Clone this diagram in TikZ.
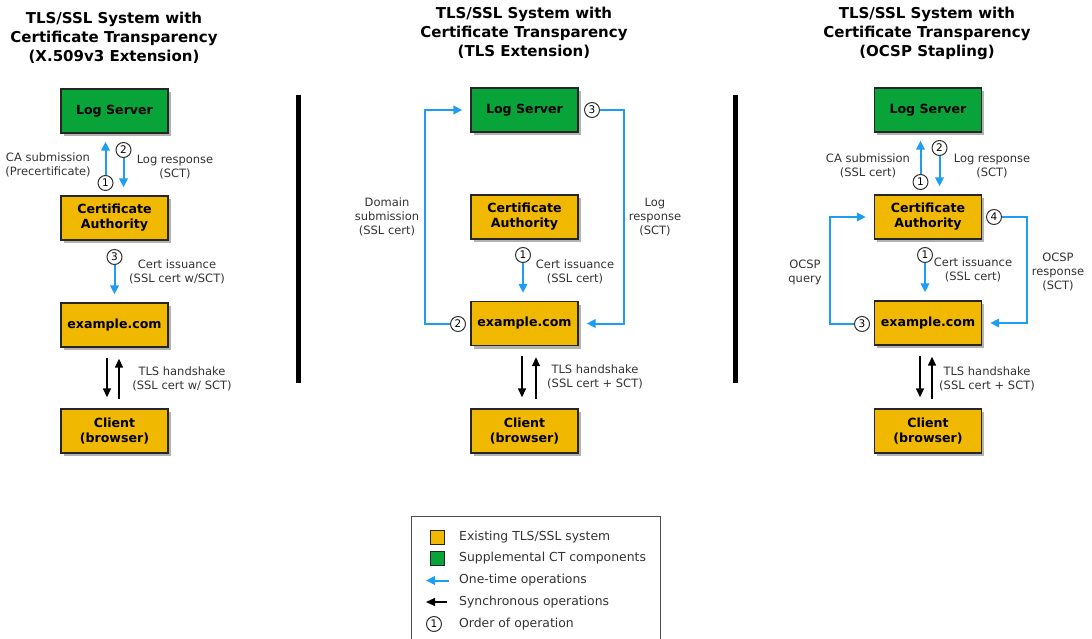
\documentclass[tikz,border=0pt]{standalone}
\usepackage{fontspec}
\setmainfont{DejaVu Sans}
\usetikzlibrary{arrows.meta,shadows}

\definecolor{caYellow}{HTML}{F0B900}
\definecolor{ctGreen}{HTML}{08A43A}
\definecolor{opBlue}{HTML}{1E9DF5}
\definecolor{lblGray}{HTML}{333333}

\tikzset{
  sysbox/.style={draw=black!85, line width=1.4pt, minimum width=107pt, minimum height=44pt,
    inner sep=2pt, align=center, font=\fontsize{12.6}{15}\selectfont\bfseries,
    drop shadow={shadow xshift=2.5pt, shadow yshift=-3pt, opacity=0.3, fill=black}},
  existing/.style={sysbox, fill=caYellow},
  supplemental/.style={sysbox, fill=ctGreen},
  heading/.style={align=center, font=\fontsize{15}{19}\selectfont\bfseries},
  lbl/.style={align=center, inner sep=0pt, text=lblGray, font=\fontsize{11.5}{14}\selectfont},
  legendtext/.style={anchor=west, inner sep=0pt, text=lblGray, font=\fontsize{12.4}{14}\selectfont},
  order/.style={circle, draw=black!80, line width=1pt, fill=white, minimum size=15pt,
    inner sep=0pt, font=\fontsize{10.5}{10.5}\selectfont},
  onetime/.style={draw=opBlue, line width=2pt, -{Triangle[length=9pt,width=8.5pt]}},
  sync/.style={draw=black, line width=1.5pt, -{Triangle[length=9pt,width=8pt]}},
  divider/.style={line width=5pt},
  swatch/.style={draw=black!85, line width=1pt, minimum size=14pt, inner sep=0pt},
}

\begin{document}
\begin{tikzpicture}[x=1pt,y=-1pt]
\clip (0,0) rectangle (1092,639);
\fill[white] (0,0) rectangle (1092,639);

% ---------- X.509v3 extension ----------
\node[heading] (t1) at (114,38) {TLS/SSL System with\\Certificate Transparency\\(X.509v3 Extension)};
\node[supplemental] (ls1) at (114.5,111) {Log Server};
\node[existing] (ca1) at (114.5,218) {Certificate\\Authority};
\node[existing] (ex1) at (114.5,325) {example.com};
\node[existing] (cl1) at (114.5,431) {Client\\(browser)};

\node[order] (o11) at (105.5,183) {1};
\node[order] (o12) at (123.5,150) {2};
\node[order] (o13) at (114.5,257) {3};
\draw[onetime, shorten >=8pt] (o11.north) -- (o11.north |- ls1.south);
\draw[onetime, shorten >=8pt] (o12.south) -- (o12.south |- ca1.north);
\draw[onetime, shorten >=8pt] (o13.south) -- (ex1.north);
\draw[sync, shorten <=10pt, shorten >=11pt] ([xshift=-7.5pt]ex1.south) -- ([xshift=-7.5pt]cl1.north);
\draw[sync, shorten <=9pt, shorten >=11pt] ([xshift=4.5pt]cl1.north) -- ([xshift=4.5pt]ex1.south);

\node[lbl] (l11) at (48,165) {CA submission\\(Precertificate)};
\node[lbl] (l12) at (175,167) {Log response\\(SCT)};
\node[lbl] (l13) at (177,271.5) {Cert issuance\\(SSL cert w/SCT)};
\node[lbl] (l14) at (182,379) {TLS handshake\\(SSL cert w/ SCT)};

\draw[divider] (298,95) -- (298,383);

% ---------- TLS extension ----------
\node[heading] (t2) at (524,33) {TLS/SSL System with\\Certificate Transparency\\(TLS Extension)};
\node[supplemental] (ls2) at (524.5,110) {Log Server};
\node[existing] (ca2) at (524.5,217) {Certificate\\Authority};
\node[existing] (ex2) at (524.5,323.5) {example.com};
\node[existing] (cl2) at (524.5,431) {Client\\(browser)};

\node[order] (o21) at (523,255) {1};
\node[order] (o22) at (458,324) {2};
\node[order] (o23) at (592,110) {3};
\draw[onetime, shorten >=8pt] (o21.south) -- (o21.south |- ex2.north);
\draw[onetime, shorten >=8pt] (o22.west) -- ++(-25,0) |- (ls2.west);
\draw[onetime, shorten >=8pt] (o23.east) -- ++(24,0) |- (ex2.east);
\draw[sync, shorten <=10pt, shorten >=11pt] ([xshift=-2.5pt]ex2.south) -- ([xshift=-2.5pt]cl2.north);
\draw[sync, shorten <=9pt, shorten >=11pt] ([xshift=11.5pt]cl2.north) -- ([xshift=11.5pt]ex2.south);

\node[lbl] (l21) at (387,217) {Domain\\submission\\(SSL cert)};
\node[lbl] (l22) at (655,217) {Log\\response\\(SCT)};
\node[lbl] (l23) at (575,272) {Cert issuance\\(SSL cert)};
\node[lbl] (l24) at (595,377) {TLS handshake\\(SSL cert + SCT)};

\draw[divider] (735,95) -- (735,383);

% ---------- OCSP stapling ----------
\node[heading] (t3) at (927,33) {TLS/SSL System with\\Certificate Transparency\\(OCSP Stapling)};
\node[supplemental] (ls3) at (928,110) {Log Server};
\node[existing] (ca3) at (928,217) {Certificate\\Authority};
\node[existing] (ex3) at (928,323) {example.com};
\node[existing] (cl3) at (928,431) {Client\\(browser)};

\node[order] (o31) at (920.5,182) {1};
\node[order] (o32) at (939.5,148) {2};
\node[order] (o3c) at (925,255) {1};
\node[order] (o33) at (862,324) {3};
\node[order] (o34) at (994,217) {4};
\draw[onetime, shorten >=8pt] (o31.north) -- (o31.north |- ls3.south);
\draw[onetime, shorten >=8pt] (o32.south) -- (o32.south |- ca3.north);
\draw[onetime, shorten >=8pt] (o3c.south) -- (o3c.south |- ex3.north);
\draw[onetime, shorten >=8pt] (o33.west) -- ++(-24,0) |- (ca3.west);
\draw[onetime, shorten >=8pt] (o34.east) -- ++(25,0) |- (ex3.east);
\draw[sync, shorten <=10pt, shorten >=11pt] ([xshift=-8pt]ex3.south) -- ([xshift=-8pt]cl3.north);
\draw[sync, shorten <=9pt, shorten >=11pt] ([xshift=4pt]cl3.north) -- ([xshift=4pt]ex3.south);

\node[lbl] (l31) at (868,166) {CA submission\\(SSL cert)};
\node[lbl] (l32) at (992,166) {Log response\\(SCT)};
\node[lbl] (l33) at (973,270) {Cert issuance\\(SSL cert)};
\node[lbl] (l34) at (805,272) {OCSP\\query};
\node[lbl] (l35) at (1058,272) {OCSP\\response\\(SCT)};
\node[lbl] (l36) at (987,379) {TLS handshake\\(SSL cert + SCT)};

% ---------- legend ----------
\draw[draw=black!70, line width=1pt] (411,516) rectangle (660,660);
\node[swatch, fill=caYellow] (k1) at (437.5,537) {};
\node[swatch, fill=ctGreen] (k2) at (437.5,558.5) {};
\coordinate (k3a) at (449,580.5);
\coordinate (k3b) at (426,580.5);
\coordinate (k4a) at (447,602);
\coordinate (k4b) at (426,602);
\draw[onetime] (k3a) -- (k3b);
\draw[sync] (k4a) -- (k4b);
\node[order] (k5) at (434,624) {1};
\node[legendtext] (e1) at (459,537) {Existing TLS/SSL system};
\node[legendtext] (e2) at (459,558.5) {Supplemental CT components};
\node[legendtext] (e3) at (459,580.5) {One-time operations};
\node[legendtext] (e4) at (459,602) {Synchronous operations};
\node[legendtext] (e5) at (459,624) {Order of operation};
\end{tikzpicture}
\end{document}
